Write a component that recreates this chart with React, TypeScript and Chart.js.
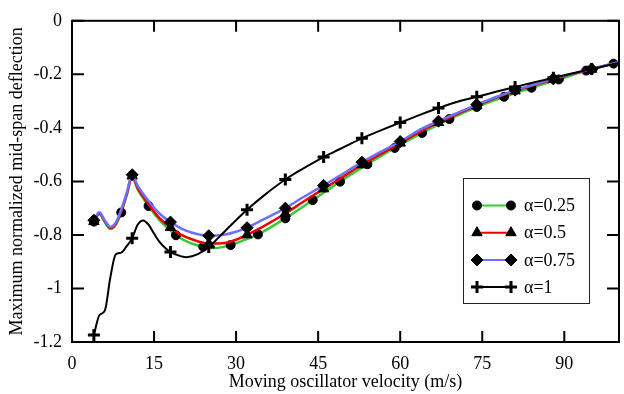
import React, { useEffect, useRef } from "react";
import { Chart, registerables } from "chart.js";

Chart.register(...registerables);

// Moving oscillator velocity (m/s) and normalized mid-span deflection per alpha
const V_A025 = [4, 5, 6, 7, 8, 9, 10, 11, 12, 14, 16, 19, 22, 24, 26, 29, 31, 34, 39, 44, 49, 54, 59, 64, 69, 74, 79, 84, 89, 94, 99, 100];
const D_A025 = [-0.75, -0.722, -0.752, -0.778, -0.762, -0.716, -0.652, -0.585, -0.63, -0.692, -0.745, -0.801, -0.833, -0.844, -0.849, -0.838, -0.823, -0.798, -0.738, -0.67, -0.601, -0.536, -0.475, -0.419, -0.367, -0.322, -0.284, -0.25, -0.219, -0.186, -0.16, -0.155];
const M_A025 = [4, 9, 14, 19, 24, 29, 34, 39, 44, 49, 54, 59, 64, 69, 74, 79, 84, 89, 94, 99];

const V_A05 = [4, 5, 6, 7, 8, 9, 10, 11, 12, 14, 16, 18, 20, 22, 25, 28, 30, 32, 35, 39, 42, 46, 49, 53, 56, 60, 64, 67, 70, 74, 77, 81, 84, 88, 91, 95, 98, 100];
const D_A05 = [-0.75, -0.72, -0.75, -0.774, -0.758, -0.712, -0.648, -0.58, -0.624, -0.685, -0.737, -0.772, -0.8, -0.817, -0.832, -0.83, -0.818, -0.8, -0.768, -0.72, -0.68, -0.628, -0.59, -0.538, -0.503, -0.457, -0.41, -0.38, -0.352, -0.317, -0.292, -0.262, -0.243, -0.219, -0.201, -0.181, -0.165, -0.155];

const V_A075 = [4, 5, 6, 7, 8, 9, 10, 11, 12, 14, 16, 18, 20, 22, 25, 28, 30, 32, 35, 39, 42, 46, 49, 53, 56, 60, 64, 67, 70, 74, 77, 81, 84, 88, 91, 95, 98, 100];
const D_A075 = [-0.745, -0.715, -0.746, -0.77, -0.754, -0.706, -0.642, -0.575, -0.616, -0.673, -0.72, -0.752, -0.776, -0.792, -0.803, -0.798, -0.788, -0.773, -0.742, -0.7, -0.662, -0.615, -0.578, -0.528, -0.494, -0.451, -0.403, -0.375, -0.348, -0.313, -0.289, -0.259, -0.241, -0.217, -0.2, -0.18, -0.164, -0.155];

const V_A1 = [4, 5, 6, 7, 8, 9, 10, 11, 12, 13, 14, 15, 16, 17, 18, 20, 21, 23, 25, 28, 32, 35, 39, 42, 46, 49, 53, 56, 60, 63, 67, 70, 74, 77, 81, 84, 88, 91, 95, 98, 100];
const D_A1 = [-1.174, -1.1, -1.083, -0.96, -0.872, -0.866, -0.842, -0.812, -0.762, -0.746, -0.762, -0.795, -0.826, -0.848, -0.864, -0.88, -0.883, -0.872, -0.845, -0.785, -0.706, -0.654, -0.593, -0.555, -0.509, -0.479, -0.439, -0.413, -0.38, -0.356, -0.326, -0.305, -0.284, -0.268, -0.247, -0.232, -0.213, -0.199, -0.18, -0.166, -0.157];

// marker velocities shared by alpha = 0.5, 0.75 and 1
const M_STEP7 = [4, 11, 18, 25, 32, 39, 46, 53, 60, 67, 74, 81, 88, 95];

const LEGEND_LABELS = ["α=0.25", "α=0.5", "α=0.75", "α=1"];
const SERIES_COLORS = ["#33cc33", "#ee0000", "#6e6eff", "#000000"];

const X_TITLE = "Moving oscillator velocity (m/s)";
const Y_TITLE = "Maximum normalized mid-span deflection";

const FONT = '"Liberation Serif", "Times New Roman", serif';

type Marker = { style: string; r: number; bw: number };
const MARKERS: Marker[] = [
  { style: "circle", r: 4.5, bw: 1 },
  { style: "triangle", r: 6, bw: 1 },
  { style: "rectRot", r: 6, bw: 1 },
  { style: "cross", r: 6, bw: 3 },
];

function pairs(v: number[], d: number[]) {
  return v.map((x, i) => ({ x, y: d[i] }));
}

function radii(v: number[], marks: number[], r: number) {
  return v.map((x) => (marks.includes(x) ? r : 0));
}

function drawMarker(ctx: CanvasRenderingContext2D, m: Marker, x: number, y: number) {
  ctx.save();
  ctx.fillStyle = "#000";
  ctx.strokeStyle = "#000";
  ctx.lineWidth = m.bw;
  ctx.beginPath();
  const r = m.r;
  if (m.style === "circle") {
    ctx.arc(x, y, r, 0, Math.PI * 2);
    ctx.fill();
    ctx.stroke();
  } else if (m.style === "triangle") {
    ctx.moveTo(x, y - r);
    ctx.lineTo(x + r * Math.sin((2 * Math.PI) / 3), y - r * Math.cos((2 * Math.PI) / 3));
    ctx.lineTo(x + r * Math.sin((4 * Math.PI) / 3), y - r * Math.cos((4 * Math.PI) / 3));
    ctx.closePath();
    ctx.fill();
    ctx.stroke();
  } else if (m.style === "rectRot") {
    ctx.moveTo(x - r, y);
    ctx.lineTo(x, y - r);
    ctx.lineTo(x + r, y);
    ctx.lineTo(x, y + r);
    ctx.closePath();
    ctx.fill();
    ctx.stroke();
  } else {
    ctx.moveTo(x - r, y);
    ctx.lineTo(x + r, y);
    ctx.moveTo(x, y - r);
    ctx.lineTo(x, y + r);
    ctx.stroke();
  }
  ctx.restore();
}

// frame with inward ticks on all four sides, plus the boxed legend
const framePlugin = {
  id: "frameAndLegend",
  afterDraw(chart: any) {
    const { ctx, chartArea: a, scales } = chart;
    const xs = scales.x;
    const ys = scales.y;
    ctx.save();
    ctx.strokeStyle = "#000";
    ctx.lineWidth = 2;
    ctx.strokeRect(a.left, a.top, a.right - a.left, a.bottom - a.top);
    ctx.beginPath();
    xs.ticks.forEach((t: any) => {
      const px = xs.getPixelForValue(t.value);
      ctx.moveTo(px, a.bottom);
      ctx.lineTo(px, a.bottom - 11);
      ctx.moveTo(px, a.top);
      ctx.lineTo(px, a.top + 11);
    });
    ys.ticks.forEach((t: any) => {
      const py = ys.getPixelForValue(t.value);
      ctx.moveTo(a.left, py);
      ctx.lineTo(a.left + 12, py);
      ctx.moveTo(a.right, py);
      ctx.lineTo(a.right - 12, py);
    });
    ctx.stroke();

    // legend box
    const bx = 463.5;
    const by = 178.5;
    const bw = 126;
    const bh = 125;
    ctx.fillStyle = "#fff";
    ctx.fillRect(bx, by, bw, bh);
    ctx.lineWidth = 1;
    ctx.strokeStyle = "#222";
    ctx.strokeRect(bx, by, bw, bh);
    const rowY = [205.5, 232.7, 260, 287];
    ctx.font = "18px " + FONT;
    ctx.textBaseline = "middle";
    ctx.textAlign = "left";
    LEGEND_LABELS.forEach((label, i) => {
      const y = rowY[i];
      ctx.beginPath();
      ctx.strokeStyle = SERIES_COLORS[i];
      ctx.lineWidth = 2;
      ctx.moveTo(477, y);
      ctx.lineTo(511, y);
      ctx.stroke();
      drawMarker(ctx, MARKERS[i], 477, y);
      drawMarker(ctx, MARKERS[i], 511, y);
      ctx.fillStyle = "#000";
      ctx.fillText(label, 524, y + 1);
    });
    ctx.restore();
  },
};

export default function App() {
  const ref = useRef<HTMLCanvasElement | null>(null);

  useEffect(() => {
    if (!ref.current) return;
    Chart.defaults.color = "#000";
    const series = [
      { v: V_A025, d: D_A025, m: M_A025, order: 4 },
      { v: V_A05, d: D_A05, m: M_STEP7, order: 3 },
      { v: V_A075, d: D_A075, m: M_STEP7, order: 2 },
      { v: V_A1, d: D_A1, m: M_STEP7, order: 1 },
    ];
    const datasets = series.map((s, i) => ({
      label: LEGEND_LABELS[i],
      data: pairs(s.v, s.d),
      order: s.order,
      borderColor: SERIES_COLORS[i],
      borderWidth: i === 3 ? 2 : 2.5,
      cubicInterpolationMode: "monotone" as const,
      pointStyle: MARKERS[i].style as any,
      pointRadius: radii(s.v, s.m, MARKERS[i].r),
      pointHoverRadius: 0,
      pointBackgroundColor: "#000",
      pointBorderColor: "#000",
      pointBorderWidth: MARKERS[i].bw,
      fill: false,
    }));

    const chart = new Chart(ref.current, {
      type: "line",
      data: { datasets },
      options: {
        animation: false,
        responsive: false,
        parsing: false as any,
        layout: { padding: { top: 13, right: 0, bottom: 0, left: 0 } },
        plugins: {
          legend: { display: false },
          tooltip: { enabled: false },
        },
        scales: {
          x: {
            type: "linear",
            min: 0,
            max: 100,
            afterBuildTicks: (s: any) => {
              s.ticks = s.ticks.filter((t: any) => t.value <= 90);
            },
            afterFit: (s: any) => {
              s.height = 52;
            },
            ticks: {
              stepSize: 15,
              padding: 11,
              color: "#000",
              font: { family: FONT, size: 18 },
            },
            grid: { display: false, drawTicks: false },
            border: { display: false },
            title: {
              display: true,
              text: X_TITLE,
              color: "#000",
              font: { family: FONT, size: 18 },
              padding: { top: 0, bottom: 1 },
            },
          },
          y: {
            type: "linear",
            min: -1.2,
            max: 0,
            afterFit: (s: any) => {
              s.width = 72;
            },
            ticks: {
              stepSize: 0.2,
              padding: 10,
              color: "#000",
              font: { family: FONT, size: 18 },
              callback: (v: any) => String(Math.round(Number(v) * 10) / 10 || 0),
            },
            grid: { display: false, drawTicks: false },
            border: { display: false },
            title: {
              display: true,
              text: Y_TITLE,
              color: "#000",
              font: { family: FONT, size: 18 },
              padding: { top: 6, bottom: 0 },
            },
          },
        },
      },
      plugins: [framePlugin],
    });
    return () => chart.destroy();
  }, []);

  return (
    <div
      style={{
        position: "fixed",
        left: 0,
        top: 0,
        width: 624,
        height: 394,
        overflow: "hidden",
        background: "#fff",
      }}
    >
      <canvas ref={ref} width={628} height={394} style={{ display: "block" }} />
    </div>
  );
}
